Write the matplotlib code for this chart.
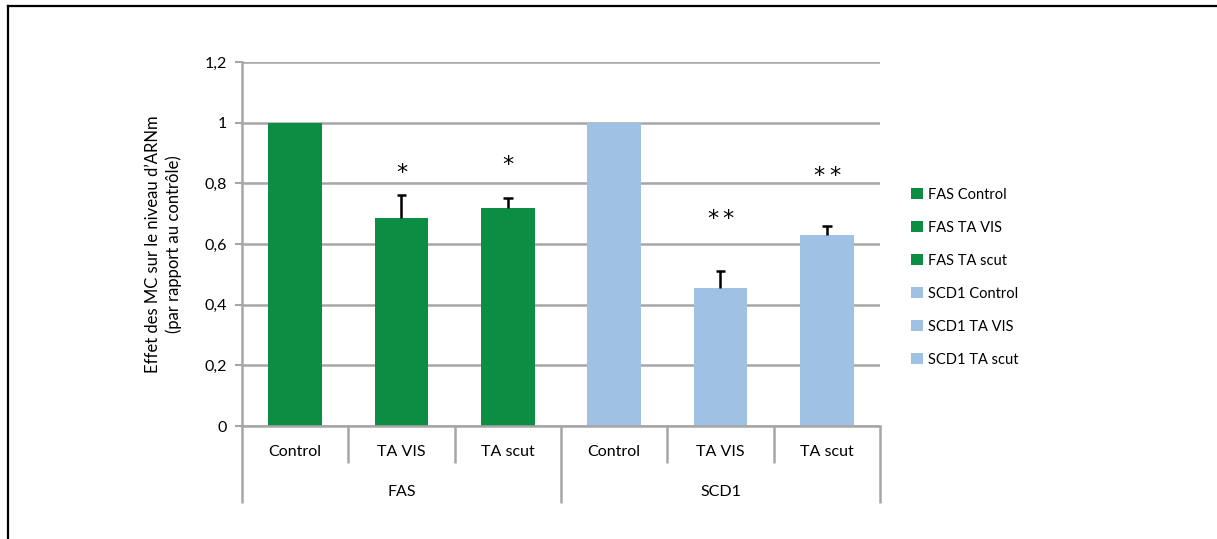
import matplotlib
matplotlib.use("Agg")
import matplotlib.pyplot as plt
from matplotlib.lines import Line2D
from matplotlib.patches import Patch
from matplotlib.transforms import blended_transform_factory, offset_copy

# Relative mRNA levels (normalised to control)
genes = ["FAS", "SCD1"]
conditions = ["Control", "TA VIS", "TA scut"]
fas_values = [1.0, 0.686, 0.719]
fas_errors = [0.0, 0.075, 0.033]
scd1_values = [1.0, 0.455, 0.630]
scd1_errors = [0.0, 0.056, 0.030]
fas_stars = ["", "*", "*"]
scd1_stars = ["", "**", "**"]
star_heights_fas = [0.0, 0.851, 0.877]
star_heights_scd1 = [0.0, 0.700, 0.840]
y_ticks = [0, 0.2, 0.4, 0.6, 0.8, 1.0, 1.2]
y_tick_labels = ["0", "0,2", "0,4", "0,6", "0,8", "1", "1,2"]

GREEN = "#0B8D43"
BLUE = "#9FC1E4"
GRID = "#A6A6A6"
FONT = ["Lato", "DejaVu Sans"]

plt.rcParams["font.family"] = FONT

W, H = 1217, 539
fig = plt.figure(figsize=(W / 100, H / 100), dpi=100)
fig.patch.set_facecolor("white")

# frame edges along the top and left of the figure
fig.add_artist(Line2D([7.5 / W, 1.0], [1 - 6 / H, 1 - 6 / H],
                      transform=fig.transFigure, color="black", linewidth=1.6))
fig.add_artist(Line2D([7.5 / W, 7.5 / W], [0.0, 1 - 6 / H],
                      transform=fig.transFigure, color="black", linewidth=1.6))

ax = fig.add_axes([242 / W, (H - 426) / H, 638 / W, 364 / H])

values = fas_values + scd1_values
errors = fas_errors + scd1_errors
colors = [GREEN] * 3 + [BLUE] * 3
x = list(range(len(values)))

ax.set_ylim(0, 1.2)
ax.set_xlim(-0.5, len(values) - 0.5)
ax.set_axisbelow(True)
ax.yaxis.grid(True, color=GRID, linewidth=1.8)

ax.bar(x, values, width=0.505, color=colors, zorder=2)

# upper error bars only
cap = 0.047
for xi, v, e in zip(x, values, errors):
    if e > 0:
        ax.plot([xi, xi], [v, v + e], color="black", linewidth=1.8,
                zorder=3, solid_capstyle="butt")
        ax.plot([xi - cap, xi + cap], [v + e, v + e], color="black",
                linewidth=1.8, zorder=3, solid_capstyle="butt")

# significance stars, each glyph placed separately
for xi, s, h in zip(x, fas_stars + scd1_stars, star_heights_fas + star_heights_scd1):
    n = len(s)
    for i, ch in enumerate(s):
        dx = (i - (n - 1) / 2) * 15.5
        tr_star = offset_copy(ax.transData, fig=fig, x=dx, y=-5, units="dots")
        ax.text(xi, h, ch, transform=tr_star, ha="center", va="center",
                fontsize=16, family=["DejaVu Sans"], color="black")

ax.set_yticks(y_ticks)
ax.set_yticklabels(y_tick_labels, fontsize=11.5)
ax.tick_params(axis="y", length=5, width=1.5, color=GRID, pad=6)
ax.set_xticks([])

for side in ["top", "right"]:
    ax.spines[side].set_visible(False)
for side in ["left", "bottom"]:
    ax.spines[side].set_color(GRID)
    ax.spines[side].set_linewidth(1.8)

# category separators and labels below the axis
tr = blended_transform_factory(ax.transData, ax.transAxes)
px = 1 / 364
for b in [i - 0.5 for i in range(len(values) + 1)]:
    group_edge = (b + 0.5) % 3 == 0
    bottom = -(503 - 426) * px if group_edge else -(463 - 426) * px
    ax.plot([b, b], [0, bottom], transform=tr, color=GRID, linewidth=1.8,
            clip_on=False, solid_capstyle="butt")

for xi, lab in zip(x, conditions * 2):
    ax.text(xi, -(452 - 426) * px, lab, transform=tr, ha="center",
            va="center", fontsize=11.5)
for gi, g in enumerate(genes):
    ax.text(gi * 3 + 1, -(492 - 426) * px, g, transform=tr, ha="center",
            va="center", fontsize=11.5)

ax.set_ylabel("Effet des MC sur le niveau d\u2019ARNm\n(par rapport au contr\u00f4le)",
              fontsize=12, labelpad=16, linespacing=1.3)

# legend
labels = [f"{g} {c}" for g in genes for c in conditions]
handles = [Patch(facecolor=c, edgecolor="none") for c in colors]
fig.legend(handles, labels, loc="upper left",
           bbox_to_anchor=(905 / W, 1 - 182 / H), frameon=False,
           fontsize=10.5, handlelength=0.8, handleheight=0.8,
           handletextpad=0.35, labelspacing=1.3, borderaxespad=0)

fig.savefig("out.png", dpi=100, facecolor="white")
